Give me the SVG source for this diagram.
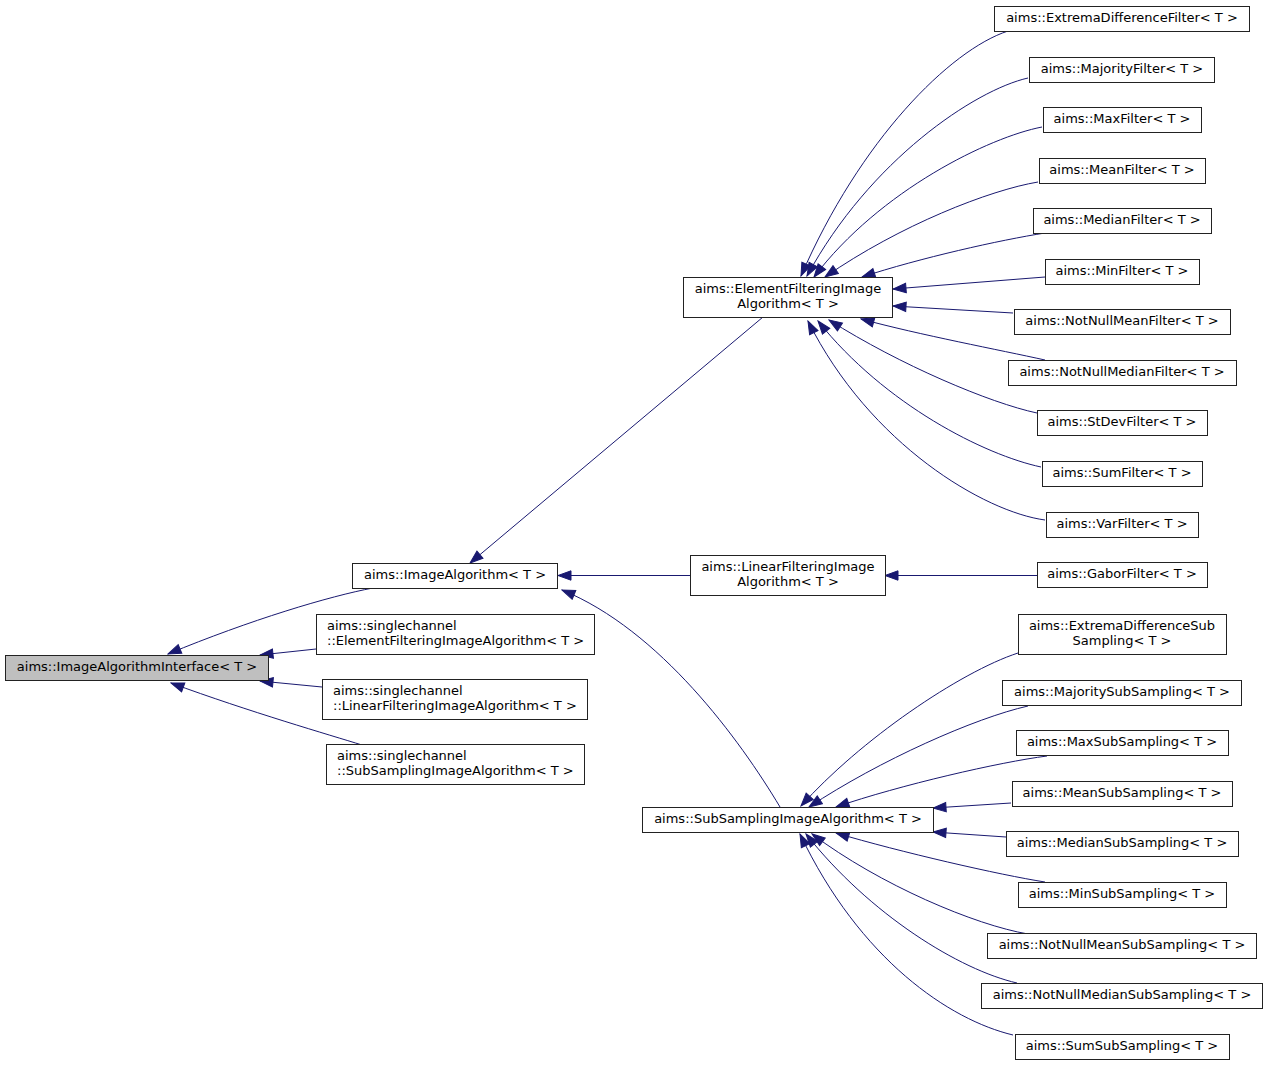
<svg xmlns="http://www.w3.org/2000/svg" width="1268" height="1067" viewBox="0 0 1268 1067">
<style>
.n rect{fill:#ffffff;stroke:#222222;stroke-width:1}
.n.root rect{fill:#bfbfbf}
text{font-family:"DejaVu Sans","Liberation Sans",sans-serif;font-size:13px;fill:#000000}
.c{text-anchor:middle}
.e path{fill:none;stroke:#191970;stroke-width:1;marker-end:url(#ah)}
</style>
<defs>
<marker id="ah" markerUnits="userSpaceOnUse" viewBox="-1 -1 15 12" refX="13" refY="5" markerWidth="15" markerHeight="12" orient="auto">
<path d="M0,0.3 L13,5 L0,9.7 z" fill="#191970" stroke="#191970" stroke-width="1"/>
</marker>
</defs>
<rect x="0" y="0" width="1268" height="1067" fill="#ffffff"/>
<g id="edges" class="e">
<path d="M373,588 C330,596 250,620 168,654"/>
<path d="M316,649 L260,655"/>
<path d="M322,687 L260,681"/>
<path d="M362,745 C330,735 250,712 171,683"/>
<path d="M763,317 L470,563"/>
<path d="M690,575.5 L558,575.5"/>
<path d="M780,807 C740,740 660,630 562,590"/>
<path d="M1037,575.5 L885,575.5"/>
<path d="M1008,31 C950,50 860,140 801,276"/>
<path d="M1028,78 C975,90 870,160 807,276"/>
<path d="M1042,127 C990,137 880,190 814,277"/>
<path d="M1038,182 C990,190 900,225 825,277"/>
<path d="M1045,233 C1000,240 920,258 862,277"/>
<path d="M1045,277 L893,289"/>
<path d="M1013,313 L893,306"/>
<path d="M1045,360 C1000,350 920,335 861,319"/>
<path d="M1037,413 C990,403 900,365 829,320"/>
<path d="M1041,467 C985,455 885,405 818,321"/>
<path d="M1045,520 C985,512 870,445 808,321"/>
<path d="M1018,653 C960,672 860,740 801,806"/>
<path d="M1028,706 C975,718 880,760 809,807"/>
<path d="M1047,756 C1000,762 900,785 836,807"/>
<path d="M1011,803 L933,808"/>
<path d="M1006,837 L933,832"/>
<path d="M1045,882 C1000,875 900,852 836,833"/>
<path d="M1028,934 C975,925 880,885 812,834"/>
<path d="M1017,983 C960,970 870,915 806,834"/>
<path d="M1013,1035 C950,1020 860,960 800,834"/>
</g>
<g id="n_root" class="n root"><rect x="5.5" y="655.5" width="263" height="25"/><text class="c" x="137" y="671">aims::ImageAlgorithmInterface&lt; T &gt;</text></g>
<g id="n_imagealgo" class="n"><rect x="352.5" y="563.5" width="205" height="25"/><text class="c" x="455" y="579">aims::ImageAlgorithm&lt; T &gt;</text></g>
<g id="n_sc_elem" class="n"><rect x="316.5" y="614.5" width="278" height="40"/><text x="327" y="630">aims::singlechannel</text><text x="327" y="645">::ElementFilteringImageAlgorithm&lt; T &gt;</text></g>
<g id="n_sc_linear" class="n"><rect x="322.5" y="679.5" width="265" height="40"/><text x="333" y="695">aims::singlechannel</text><text x="333" y="710">::LinearFilteringImageAlgorithm&lt; T &gt;</text></g>
<g id="n_sc_sub" class="n"><rect x="326.5" y="744.5" width="258" height="40"/><text x="337" y="760">aims::singlechannel</text><text x="337" y="775">::SubSamplingImageAlgorithm&lt; T &gt;</text></g>
<g id="n_elemfilt" class="n"><rect x="683.5" y="277.5" width="209" height="40"/><text class="c" x="788" y="293">aims::ElementFilteringImage</text><text class="c" x="788" y="308">Algorithm&lt; T &gt;</text></g>
<g id="n_linfilt" class="n"><rect x="690.5" y="555.5" width="195" height="40"/><text class="c" x="788" y="571">aims::LinearFilteringImage</text><text class="c" x="788" y="586">Algorithm&lt; T &gt;</text></g>
<g id="n_subsamp" class="n"><rect x="642.5" y="807.5" width="291" height="25"/><text class="c" x="788" y="823">aims::SubSamplingImageAlgorithm&lt; T &gt;</text></g>
<g id="n_extdiff" class="n"><rect x="994.5" y="6.5" width="255" height="25"/><text class="c" x="1122" y="22">aims::ExtremaDifferenceFilter&lt; T &gt;</text></g>
<g id="n_majority" class="n"><rect x="1029.5" y="57.5" width="185" height="25"/><text class="c" x="1122" y="73">aims::MajorityFilter&lt; T &gt;</text></g>
<g id="n_max" class="n"><rect x="1043.5" y="107.5" width="158" height="25"/><text class="c" x="1122" y="123">aims::MaxFilter&lt; T &gt;</text></g>
<g id="n_mean" class="n"><rect x="1039.5" y="158.5" width="166" height="25"/><text class="c" x="1122" y="174">aims::MeanFilter&lt; T &gt;</text></g>
<g id="n_median" class="n"><rect x="1033.5" y="208.5" width="178" height="25"/><text class="c" x="1122" y="224">aims::MedianFilter&lt; T &gt;</text></g>
<g id="n_min" class="n"><rect x="1045.5" y="259.5" width="154" height="25"/><text class="c" x="1122" y="275">aims::MinFilter&lt; T &gt;</text></g>
<g id="n_nnmean" class="n"><rect x="1014.5" y="309.5" width="216" height="25"/><text class="c" x="1122" y="325">aims::NotNullMeanFilter&lt; T &gt;</text></g>
<g id="n_nnmedian" class="n"><rect x="1008.5" y="360.5" width="228" height="25"/><text class="c" x="1122" y="376">aims::NotNullMedianFilter&lt; T &gt;</text></g>
<g id="n_stdev" class="n"><rect x="1037.5" y="410.5" width="170" height="25"/><text class="c" x="1122" y="426">aims::StDevFilter&lt; T &gt;</text></g>
<g id="n_sum" class="n"><rect x="1042.5" y="461.5" width="160" height="25"/><text class="c" x="1122" y="477">aims::SumFilter&lt; T &gt;</text></g>
<g id="n_var" class="n"><rect x="1046.5" y="512.5" width="152" height="25"/><text class="c" x="1122" y="528">aims::VarFilter&lt; T &gt;</text></g>
<g id="n_gabor" class="n"><rect x="1037.5" y="562.5" width="170" height="25"/><text class="c" x="1122" y="578">aims::GaborFilter&lt; T &gt;</text></g>
<g id="n_extdiffsub" class="n"><rect x="1018.5" y="614.5" width="208" height="40"/><text class="c" x="1122" y="630">aims::ExtremaDifferenceSub</text><text class="c" x="1122" y="645">Sampling&lt; T &gt;</text></g>
<g id="n_majsub" class="n"><rect x="1002.5" y="680.5" width="239" height="25"/><text class="c" x="1122" y="696">aims::MajoritySubSampling&lt; T &gt;</text></g>
<g id="n_maxsub" class="n"><rect x="1016.5" y="730.5" width="212" height="25"/><text class="c" x="1122" y="746">aims::MaxSubSampling&lt; T &gt;</text></g>
<g id="n_meansub" class="n"><rect x="1012.5" y="781.5" width="220" height="25"/><text class="c" x="1122" y="797">aims::MeanSubSampling&lt; T &gt;</text></g>
<g id="n_mediansub" class="n"><rect x="1006.5" y="831.5" width="232" height="25"/><text class="c" x="1122" y="847">aims::MedianSubSampling&lt; T &gt;</text></g>
<g id="n_minsub" class="n"><rect x="1018.5" y="882.5" width="208" height="25"/><text class="c" x="1122" y="898">aims::MinSubSampling&lt; T &gt;</text></g>
<g id="n_nnmeansub" class="n"><rect x="987.5" y="933.5" width="269" height="25"/><text class="c" x="1122" y="949">aims::NotNullMeanSubSampling&lt; T &gt;</text></g>
<g id="n_nnmediansub" class="n"><rect x="981.5" y="983.5" width="281" height="25"/><text class="c" x="1122" y="999">aims::NotNullMedianSubSampling&lt; T &gt;</text></g>
<g id="n_sumsub" class="n"><rect x="1015.5" y="1034.5" width="214" height="25"/><text class="c" x="1122" y="1050">aims::SumSubSampling&lt; T &gt;</text></g>
</svg>
